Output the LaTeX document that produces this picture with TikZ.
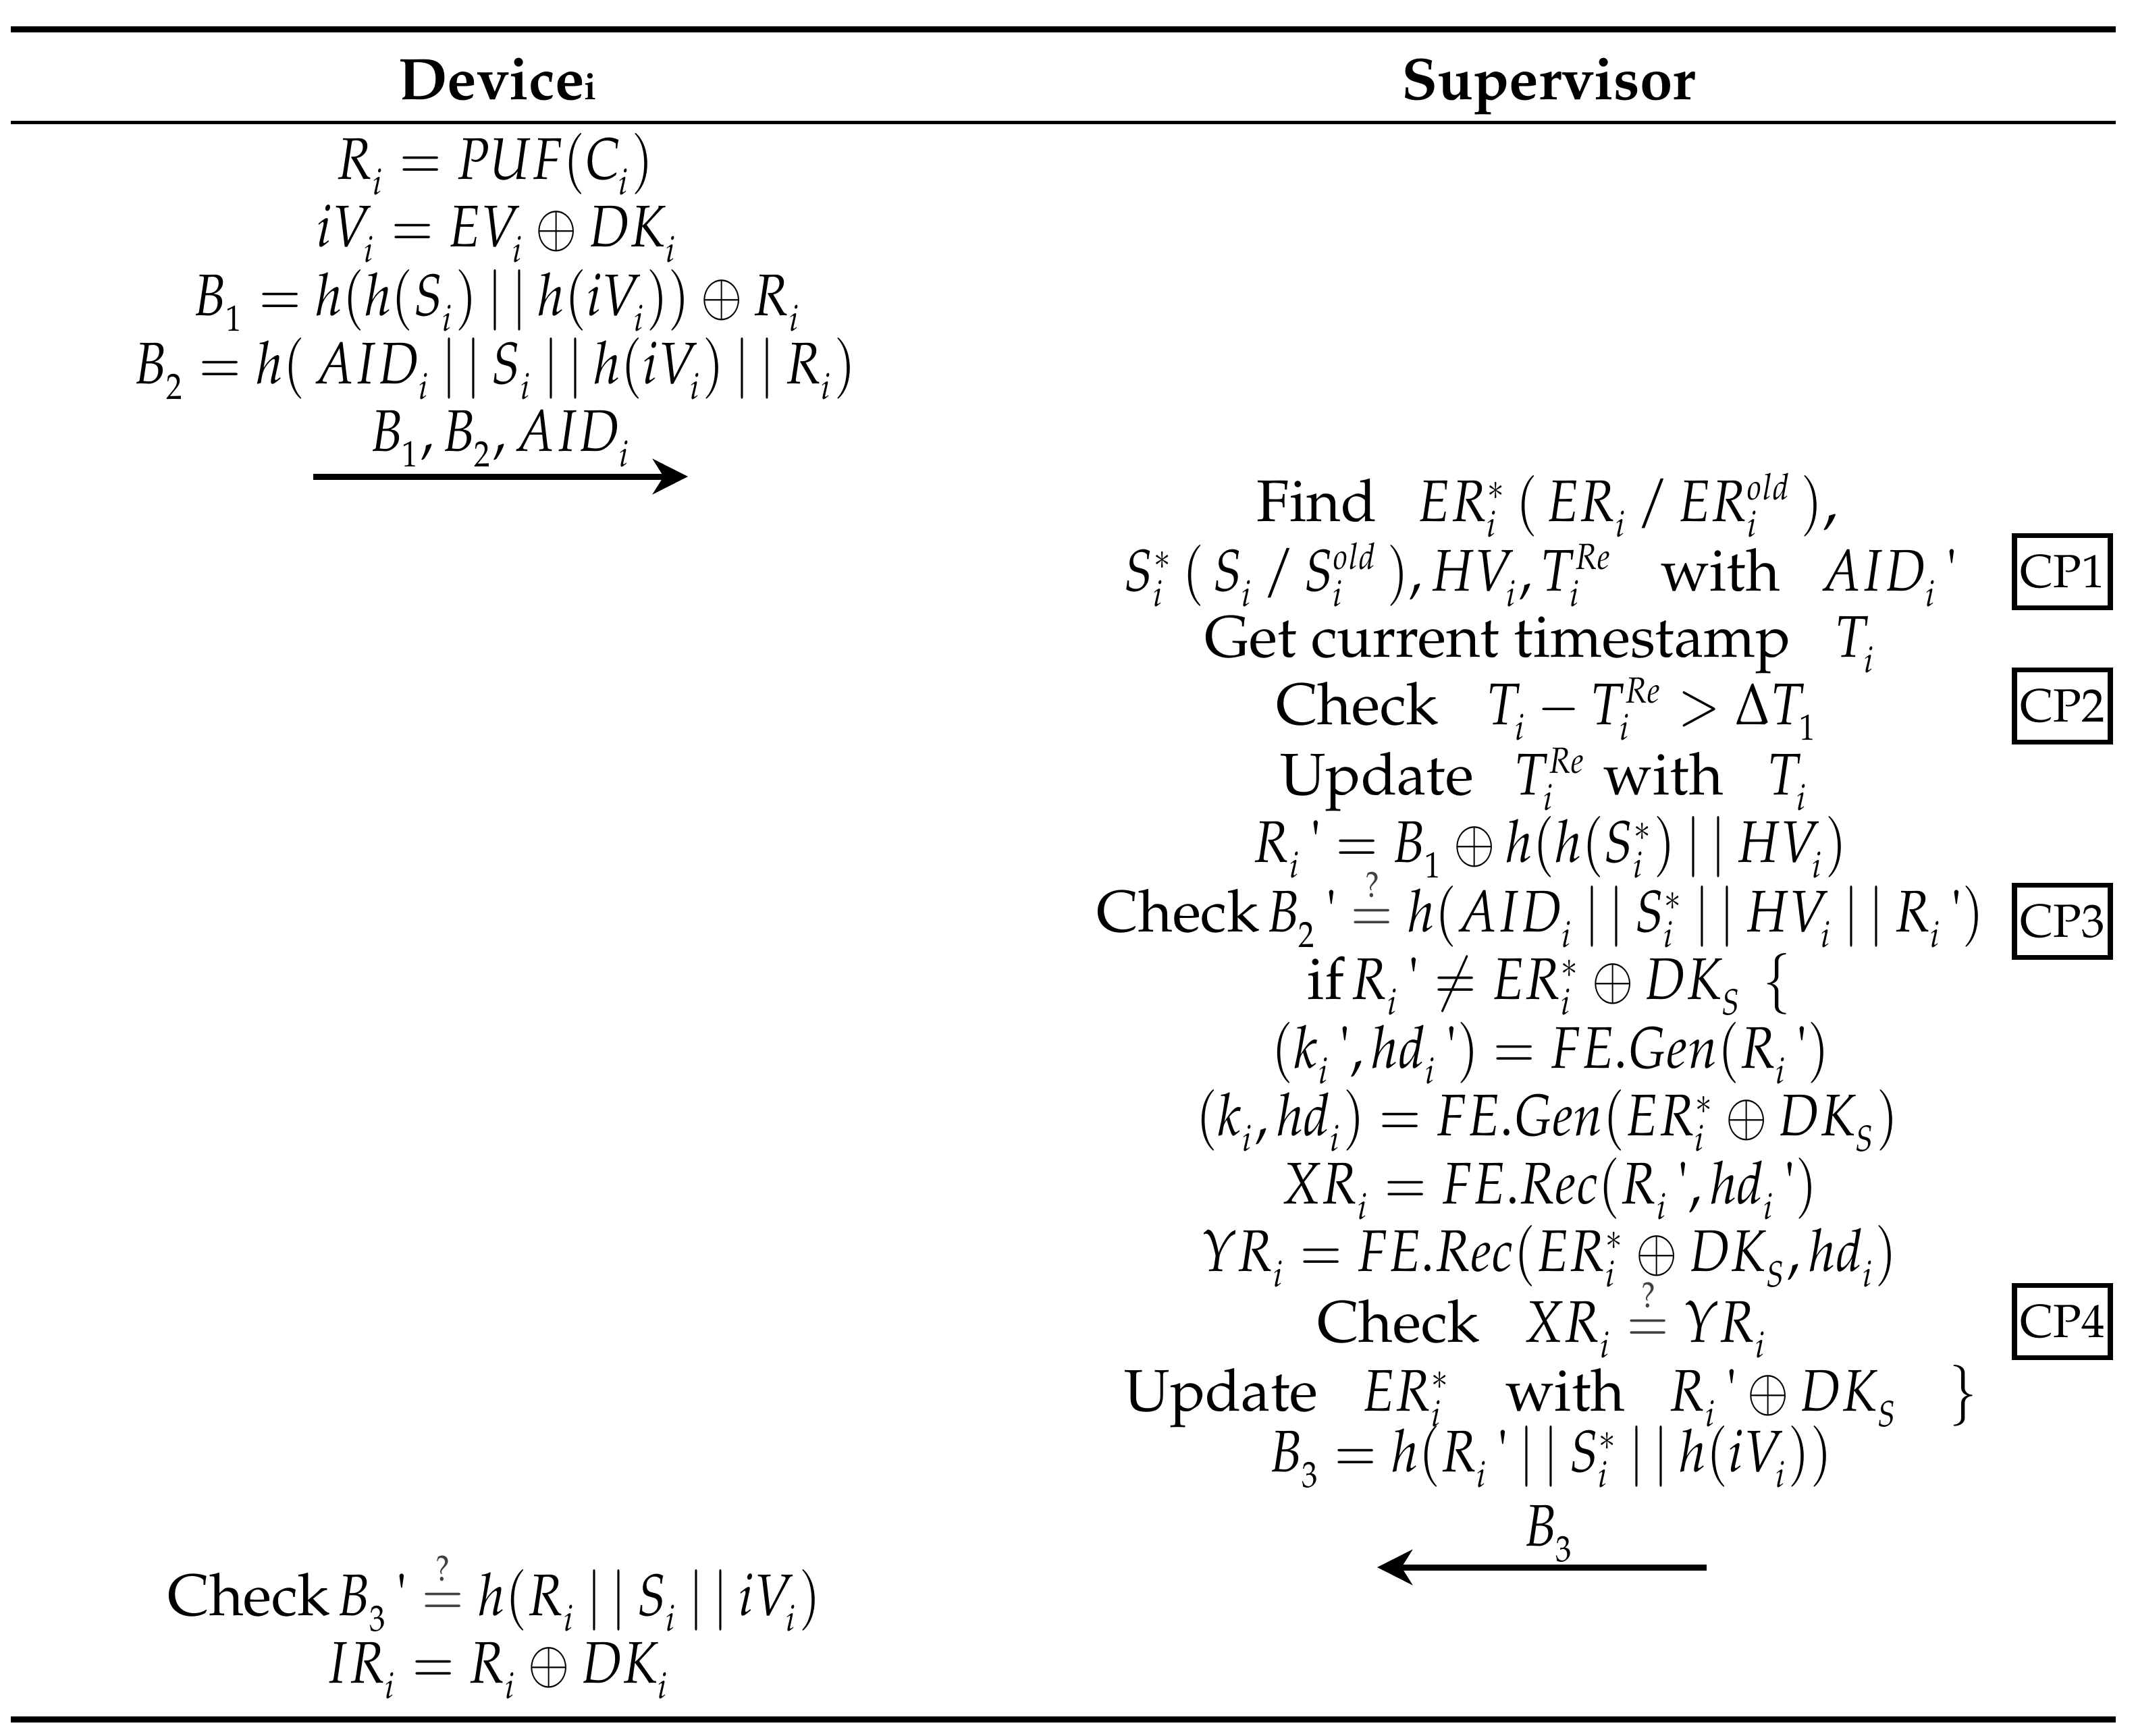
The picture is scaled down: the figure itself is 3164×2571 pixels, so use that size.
\documentclass[tikz,border=0pt]{standalone}
\usepackage[T1]{fontenc}
\usepackage{mathpazo}
\usepackage{graphicx}
\usetikzlibrary{arrows.meta}
\DeclareMathSizes{8.7}{8.7}{5.4}{4.4}
\newcommand{\conc}{\mathbin{|\,|}}
\newcommand{\qeq}{\mathrel{\textcolor{black!75}{\stackrel{?}{=}}}}
\newcommand{\pr}{\,\mbox{\textquotesingle}}
\newcommand{\m}[1]{{\fontsize{8.7}{10}\selectfont\scalebox{0.87}[1]{$\fontdimen16\textfont2=2.3pt\fontdimen17\textfont2=2.3pt #1$}}}
\begin{document}
\begin{tikzpicture}[x=0.1pt,y=-0.1pt,
  txt/.style={anchor=base,inner sep=0pt,font=\fontsize{8.7}{10}\selectfont},
  hdr/.style={anchor=base,inner sep=0pt,font=\fontsize{8.7}{10}\selectfont\bfseries},
  cpbox/.style={draw,line width=0.75pt,minimum width=14.2pt,minimum height=10.7pt,inner sep=0pt,font=\fontsize{6.9}{8}\selectfont},
  msg/.style={line width=0.9pt,-{Stealth[length=5.2pt,width=5.2pt,inset=1.6pt]}}]
\useasboundingbox (0,0) rectangle (3164,2571);
% rules
\draw[line width=0.9pt] (16,43.5) -- (3134,43.5);
\draw[line width=0.5pt] (16,181.5) -- (3134,181.5);
\draw[line width=0.85pt] (16,2547.5) -- (3134,2547.5);
% headers
\node[hdr] (hdev) at (737,147) {Device{\fontsize{5.5}{6}\selectfont i}};
\node[hdr] (hsup) at (2294,147) {Supervisor};
% device side
\node[txt] (d1) at (733,265) {\m{R_i = PUF(C_i)}};
\node[txt] (d2) at (737,365) {\m{iV_i = EV_i \oplus DK_i}};
\node[txt] (d3) at (737,467) {\m{B_1 = h(h(S_i)\conc h(iV_i))\oplus R_i}};
\node[txt] (d4) at (733,568) {\m{B_2 = h(\,AID_i\conc S_i\conc h(iV_i)\conc R_i)}};
\node[txt] (d5) at (742,668) {\m{B_1, B_2, AID_i}};
\coordinate (a1s) at (464,706);
\coordinate (a1e) at (1019,706);
\draw[msg] (a1s) -- (a1e);
% supervisor side
\node[txt] (s1) at (2292,772) {Find\hspace{6pt}\m{ER_i^{*}\,(\,ER_i\,/\,ER_i^{old}\,)},};
\node[txt] (s2) at (2282,875) {\m{S_i^{*}\,(\,S_i\,/\,S_i^{old}\,), HV_i, T_i^{Re}}\hspace{7pt}with\hspace{6pt}\m{AID_i\pr}};
\node[txt] (s3) at (2282,973) {Get current timestamp\hspace{6.5pt}\m{T_i}};
\node[txt] (s4) at (2292,1073) {Check\hspace{7pt}\m{T_i - T_i^{Re} > \Delta T_1}};
\node[txt] (s5) at (2288,1177) {Update\hspace{6pt}\m{T_i^{Re}}\hspace{2.5pt}with\hspace{6.5pt}\m{T_i}};
\node[txt] (s6) at (2296,1277) {\m{R_i\pr = B_1 \oplus h(h(S_i^{*})\conc HV_i)}};
\node[txt] (s7) at (2282,1380) {Check\hspace{1pt}\m{B_2\pr \qeq h(AID_i\conc S_i^{*}\conc HV_i\conc R_i\pr)}};
\node[txt] (s8) at (2295,1480) {if\hspace{1pt}\m{R_i\pr \neq ER_i^{*}\oplus DK_S}\hspace{3pt}\m{\{}};
\node[txt] (s9) at (2297,1582) {\m{(k_i\pr, hd_i\pr) = FE.Gen(R_i\pr)}};
\node[txt] (s10) at (2292,1682) {\m{(k_i, hd_i) = FE.Gen(ER_i^{*}\oplus DK_S)}};
\node[txt] (s11) at (2295,1783) {\m{XR_i = FE.Rec(R_i\pr, hd_i\pr)}};
\node[txt] (s12) at (2295,1883) {\m{YR_i = FE.Rec(ER_i^{*}\oplus DK_S, hd_i)}};
\node[txt] (s13) at (2285,1988) {Check\hspace{6.5pt}\m{XR_i \qeq YR_i}};
\node[txt] (s14) at (2297,2090) {Update\hspace{6.5pt}\m{ER_i^{*}}\hspace{8pt}with\hspace{6.5pt}\m{R_i\pr\oplus DK_S}\hspace{7.5pt}\m{\}}};
\node[txt] (s15) at (2297,2180) {\m{B_3 = h(R_i\pr\conc S_i^{*}\conc h(iV_i))}};
\node[txt] (l3) at (2295,2290) {\m{B_3}};
\coordinate (a2s) at (2528,2322);
\coordinate (a2e) at (2040,2322);
\draw[msg] (a2s) -- (a2e);
% device final
\node[txt] (b1) at (732,2393) {Check\hspace{1pt}\m{B_3\pr \qeq h(R_i\conc S_i\conc iV_i)}};
\node[txt] (b2) at (738,2493) {\m{IR_i = R_i\oplus DK_i}};
% check points
\node[cpbox] (cp1) at (3055,847) {CP1};
\node[cpbox] (cp2) at (3055,1046) {CP2};
\node[cpbox] (cp3) at (3055,1365) {CP3};
\node[cpbox] (cp4) at (3055,1958) {CP4};
\end{tikzpicture}
\end{document}
